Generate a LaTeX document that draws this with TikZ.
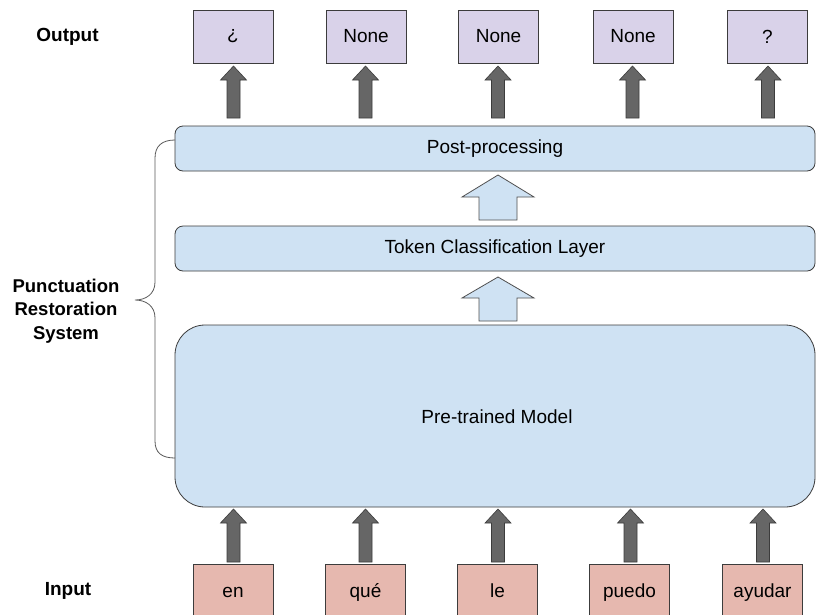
\documentclass[tikz,border=0pt]{standalone}
\usepackage{fontspec}
\setmainfont{Liberation Sans}
\definecolor{outfill}{HTML}{D9D2E9}
\definecolor{infill}{HTML}{E6B8AF}
\definecolor{bluefill}{HTML}{CFE2F3}
\definecolor{edge}{HTML}{3C3C3C}
\definecolor{darkarrow}{HTML}{666666}
\newcommand{\blockarrow}[7]{% style, cx, ybottom, ytop, halfshaft, halfhead, headlen
  \draw[#1] (#2-#5,#3) -- (#2-#5,#4+#7) -- (#2-#6,#4+#7) -- (#2,#4) -- (#2+#6,#4+#7) -- (#2+#5,#4+#7) -- (#2+#5,#3) -- cycle;}
\begin{document}
\begin{tikzpicture}[x=1pt,y=-1pt,
  outbox/.style={draw=edge, line width=0.8pt, fill=outfill, minimum width=80pt, minimum height=53pt, inner sep=0pt, font=\fontsize{19}{22}\selectfont},
  inbox/.style={draw=edge, line width=0.8pt, fill=infill, minimum width=80pt, minimum height=60pt, inner sep=0pt},
  layer/.style={draw=edge, line width=0.8pt, fill=bluefill, rounded corners=8pt},
  lbl/.style={font=\fontsize{19}{22}\selectfont\bfseries, align=center},
  txt/.style={font=\fontsize{19}{22}\selectfont},
  darkarr/.style={fill=darkarrow, draw=edge, line width=0.6pt},
  hollowarr/.style={fill=bluefill, draw=edge!90, line width=0.8pt}]
\useasboundingbox (0,0) rectangle (816,614);
\fill[white] (0,0) rectangle (816,614);

% labels
\node[lbl] (outlbl) at (67.5,37) {Output};
\node[lbl] (inlbl) at (68,591) {Input};
\node[font=\fontsize{18.5}{23.5}\selectfont\bfseries, align=center] (syslbl) at (66,311) {Punctuation\\Restoration\\System};

% output boxes
\node[outbox] (o1) at (233,36.5) {¿};
\node[outbox] (o2) at (366,36.5) {None};
\node[outbox] (o3) at (498.5,36.5) {None};
\node[outbox] (o4) at (633,36.5) {None};
\node[outbox] (o5) at (767.5,36.5) {?};

% layers
\draw[layer] (175,126) rectangle (815,171);
\node[txt] (post) at (495,149) {Post-processing};
\draw[layer] (175,226) rectangle (815,271);
\node[txt] (tok) at (495,249) {Token Classification Layer};
\draw[layer, rounded corners=30pt] (175,325) rectangle (815,507);
\node[txt] (ptm) at (497,417) {Pre-trained Model};

% input boxes (cut by the lower edge)
\draw[draw=edge, line width=0.8pt, fill=infill] (193,564) rectangle (273,620);
\draw[draw=edge, line width=0.8pt, fill=infill] (325.5,564) rectangle (405.5,620);
\draw[draw=edge, line width=0.8pt, fill=infill] (457.5,564) rectangle (537.5,620);
\draw[draw=edge, line width=0.8pt, fill=infill] (589.5,564) rectangle (669.5,620);
\draw[draw=edge, line width=0.8pt, fill=infill] (722.5,564) rectangle (802.5,620);
\node[txt, anchor=base] (i1) at (233,597) {en};
\node[txt, anchor=base] (i2) at (365.5,597) {qué};
\node[txt, anchor=base] (i3) at (497.5,597) {le};
\node[txt, anchor=base] (i4) at (629.5,597) {puedo};
\node[txt, anchor=base] (i5) at (762.5,597) {ayudar};

% dark arrows to output
\blockarrow{darkarr}{233.5}{118}{66}{6.5}{13}{14}
\blockarrow{darkarr}{365.5}{118}{66}{6.5}{13}{14}
\blockarrow{darkarr}{498}{118}{66}{6.5}{13}{14}
\blockarrow{darkarr}{632.5}{118}{66}{6.5}{13}{14}
\blockarrow{darkarr}{768}{118}{66}{6.5}{13}{14}

% dark arrows from input
\blockarrow{darkarr}{233.5}{562}{509}{6.5}{13}{14}
\blockarrow{darkarr}{365.5}{562}{509}{6.5}{13}{14}
\blockarrow{darkarr}{498}{562}{509}{6.5}{13}{14}
\blockarrow{darkarr}{630.5}{562}{509}{6.5}{13}{14}
\blockarrow{darkarr}{763}{562}{509}{6.5}{13}{14}

% hollow arrows between layers
\blockarrow{hollowarr}{498}{220}{175}{19}{36}{22}
\blockarrow{hollowarr}{498}{321}{277}{19}{36}{21}

% brace
\coordinate (bt) at (175,140);
\coordinate (bb) at (175,458);
\coordinate (btip) at (135,300);
\draw[draw=edge!85, line width=0.8pt] (bt) .. controls (162,140) and (155,146) .. (155,158) -- (155,282)
  .. controls (155,294) and (146,300) .. (btip)
  .. controls (146,300) and (155,306) .. (155,318) -- (155,441)
  .. controls (155,453) and (162,458) .. (bb);
\end{tikzpicture}
\end{document}
